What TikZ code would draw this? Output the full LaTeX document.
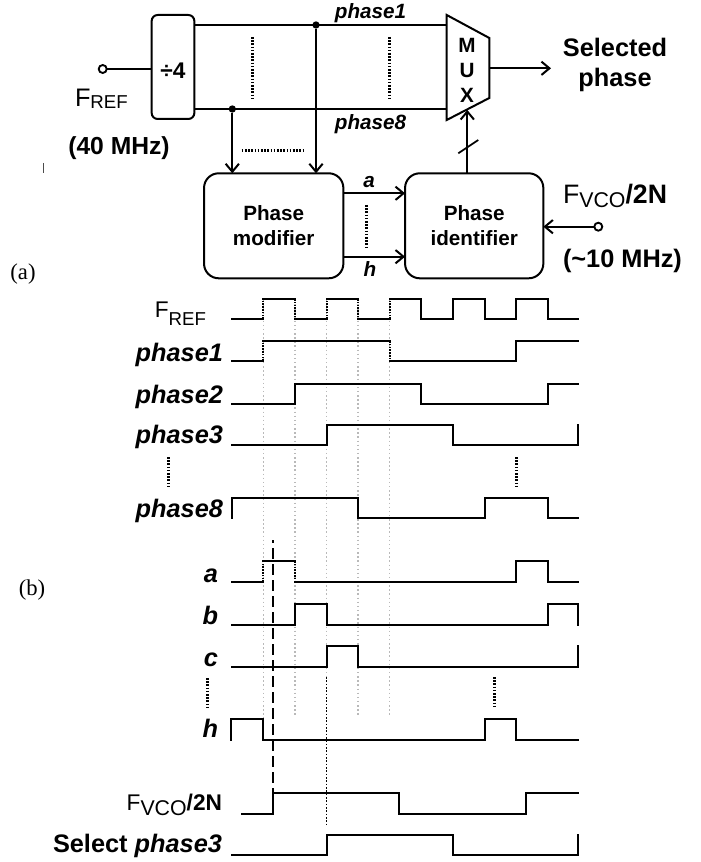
\documentclass[tikz,border=0pt]{standalone}
\usepackage{fontspec}
\setmainfont{Liberation Sans}
\newfontfamily\tmsfont{Liberation Serif}
\usetikzlibrary{arrows.meta}
\newcommand\fsz[1]{\fontsize{#1}{#1}\selectfont}
\def\eA{263.3}\def\eB{294.9}\def\eC{326.5}\def\eD{358.1}\def\eE{389.7}
\def\eF{421.3}\def\eG{452.9}\def\eH{484.5}\def\eI{516.1}\def\eJ{547.7}
\begin{document}
\begin{tikzpicture}[x=0.75pt,y=-0.75pt,
  every node/.style={inner sep=0pt, outer sep=0pt},
  ln/.style={line width=1.5pt},
  box/.style={draw, line width=1.5pt, rounded corners=11pt, align=center, font=\bfseries\fontsize{15.5}{19}\selectfont},
  arr/.style={line width=1.5pt, -{Straight Barb[length=6pt,width=10pt]}},
  sig/.style={line width=1.5pt, line join=miter, line cap=rect},
  sigdot/.style={line width=1.5pt, dash pattern=on 1.2pt off 0.9pt},
  guide/.style={gray!55, line width=1.1pt, dash pattern=on 1.1pt off 2pt},
  bdots/.style={line width=2.1pt, dash pattern=on 1.2pt off 1.2pt},
  lbl/.style={font=\bfseries\itshape\fsz{19}, anchor=base east},
  toplbl/.style={font=\bfseries\itshape\fsz{15.5}, anchor=base},
  jdot/.style={circle, fill, inner sep=0pt, minimum size=5.5pt},
  pin/.style={circle, draw, line width=1.4pt, fill=white, inner sep=0pt, minimum size=6pt}
]
\useasboundingbox (0,0) rectangle (700,862);

% ---------------- (a) block diagram ----------------
\node[draw, line width=1.5pt, rounded corners=4.5pt, minimum width=32pt, minimum height=78pt] (div) at (173,67) {};
\node[font=\bfseries\fsz{17}] (divt) at (173,70.5) {÷4};
\node[pin] (fin) at (102.7,69) {};
\draw[ln] (fin) -- (fin -| div.west);
\node[anchor=base west] (frefl) at (75,107) {\fsz{19}F\raisebox{-1pt}{\fsz{14}REF}};
\node[font=\bfseries\fsz{18.5}, anchor=base] (f40) at (119,155) {(40 MHz)};

\coordinate (m1) at (446.7,25);
\coordinate (m8) at (446.7,109);
\draw[ln] (div.east |- m1) -- (m1);
\draw[ln] (div.east |- m8) -- (m8);
\node[toplbl] (lp1) at (370.5,19) {phase1};
\node[toplbl] (lp8) at (370.5,130) {phase8};

% MUX
\coordinate (mA) at (446.7,15);
\coordinate (mB) at (489.3,38);
\coordinate (mC) at (489.3,98);
\coordinate (mD) at (446.7,120);
\draw[ln, line join=miter] (mA) -- (mB) -- (mC) -- (mD) -- cycle;
\node[font=\bfseries\fsz{15.5}] (mM) at (467,45) {M};
\node[font=\bfseries\fsz{15.5}] (mU) at (467,70) {U};
\node[font=\bfseries\fsz{15.5}] (mX) at (467,95) {X};
\coordinate (mout) at (489.3,68.3);
\coordinate (selend) at (551,68.3);
\draw[arr] (mout) -- (selend);
\node[font=\bfseries\fsz{19}, anchor=base] (sel1) at (615,57) {Selected};
\node[font=\bfseries\fsz{19}, anchor=base] (sel2) at (615,87) {phase};

% dotted bundles
\draw[bdots] (252.7,37) -- (252.7,100);
\draw[bdots] (389.3,37) -- (389.3,100);
\draw[bdots] (241.7,150.7) -- (305,150.7);

% boxes
\node[box, minimum width=104.5pt, minimum height=78.75pt] (pm) at (273.7,225.8) {Phase\\modifier};
\node[box, minimum width=103.7pt, minimum height=78.75pt] (pi) at (474.2,225.8) {Phase\\identifier};

% junctions and arrows to phase modifier
\node[jdot] (j1) at (316,25) {};
\node[jdot] (j8) at (232.3,109) {};
\draw[arr] (j1) -- (j1 |- pm.north);
\draw[arr] (j8) -- (j8 |- pm.north);

% a ... h
\coordinate (ya) at (0,193.3);
\coordinate (yh) at (0,256.7);
\draw[arr] (pm.east |- ya) -- (pi.west |- ya);
\draw[arr] (pm.east |- yh) -- (pi.west |- yh);
\node[toplbl] (la) at (369,188) {a};
\node[toplbl] (lh) at (370,277) {h};
\draw[bdots] (366.7,205) -- (366.7,247);

% identifier to MUX
\coordinate (muxin) at (467.3,110);
\coordinate (piup) at (467.3,173.3);
\draw[arr] (piup) -- (muxin);
\coordinate (slA) at (458.3,153.3);
\coordinate (slB) at (478.3,140);
\draw[line width=1.3pt] (slA) -- (slB);

% FVCO input
\node[pin] (vin) at (598.3,226.7) {};
\draw[arr] (vin) -- (vin -| pi.east);
\node[anchor=base west] (fvtop) at (563,204) {\fsz{20}F\raisebox{-3pt}{\fsz{16}VCO}\bfseries/2N};
\node[font=\bfseries\fsz{19}, anchor=base west] (f10) at (563,268) {(\textasciitilde10 MHz)};

% stray mark and panel labels
\draw[line width=1pt, black!70] (43.3,163) -- (43.3,173);
\node[font=\tmsfont\fsz{17}] (pa) at (23,274) {(a)};
\node[font=\tmsfont\fsz{17}] (pb) at (32,590) {(b)};

% ---------------- (b) timing diagram ----------------
% guide lines
\draw[guide] (\eA,300) -- (\eA,719);
\draw[guide] (\eB,300) -- (\eB,716);
\draw[guide] (\eC,300) -- (\eC,677);
\draw[guide] (\eD,300) -- (\eD,716);
\draw[guide] (\eE,300) -- (\eE,716);
\draw[line width=1.3pt, dash pattern=on 1.2pt off 1.3pt] (\eC,677) -- (\eC,826);
\draw[line width=1.3pt, dash pattern=on 8pt off 4pt, dash phase=6pt] (273.3,540) -- (273.3,813);

% labels
\node[anchor=base east] (lfref) at (206,318) {\fsz{17}F\raisebox{-5.5pt}{\fsz{14}REF}};
\node[lbl] (l1) at (223,361) {phase1};
\node[lbl] (l2) at (223,403) {phase2};
\node[lbl] (l3) at (223,443) {phase3};
\node[lbl] (l8) at (223,517) {phase8};
\node[lbl] (lta) at (218,582) {a};
\node[lbl] (ltb) at (218,624) {b};
\node[lbl] (ltc) at (218,666) {c};
\node[lbl] (lth) at (218,737) {h};
\node[anchor=base east] (lfv) at (222,810) {\fsz{17}F\raisebox{-4pt}{\fsz{16}VCO}\bfseries/2N};
\node[anchor=base east, font=\fsz{19}] (lsel) at (222,852) {\bfseries Select \itshape phase3};

\draw[bdots] (168.3,457) -- (168.3,487);
\draw[bdots] (\eI,457) -- (\eI,487);
\draw[bdots] (207.3,678) -- (207.3,707);
\draw[bdots] (494.3,677) -- (494.3,707);

% FREF
\draw[sig] (232,319) -- (\eA,319);
\draw[sigdot] (\eA,319) -- (\eA,299);
\draw[sig] (\eA,299) -- (\eB,299);
\draw[sigdot] (\eB,299) -- (\eB,319);
\draw[sig] (\eB,319) -- (\eC,319);
\draw[sigdot] (\eC,319) -- (\eC,299);
\draw[sig] (\eC,299) -- (\eD,299);
\draw[sigdot] (\eD,299) -- (\eD,319);
\draw[sig] (\eD,319) -- (\eE,319);
\draw[sigdot] (\eE,319) -- (\eE,299);
\draw[sig] (\eE,299) -- (\eF,299) -- (\eF,319) -- (\eG,319) -- (\eG,299) -- (\eH,299) -- (\eH,319) -- (\eI,319) -- (\eI,299) -- (\eJ,299) -- (\eJ,319) -- (578,319);
% phase1
\draw[sig] (232,361) -- (\eA,361);
\draw[sigdot] (\eA,361) -- (\eA,341);
\draw[sig] (\eA,341) -- (\eE,341);
\draw[sigdot] (\eE,341) -- (\eE,361);
\draw[sig] (\eE,361) -- (\eI,361) -- (\eI,341) -- (578,341);
% phase2
\draw[sig] (232,404) -- (\eB,404) -- (\eB,384) -- (\eF,384) -- (\eF,404) -- (\eJ,404) -- (\eJ,384) -- (578,384);
% phase3
\draw[sig] (232,445) -- (\eC,445) -- (\eC,425) -- (\eG,425) -- (\eG,445) -- (578,445) -- (578,425);
% phase8
\draw[sig] (232,518) -- (232,498) -- (\eD,498) -- (\eD,518) -- (\eH,518) -- (\eH,498) -- (\eJ,498) -- (\eJ,518) -- (578,518);
% a
\draw[sig] (232,582) -- (\eA,582);
\draw[sigdot] (\eA,582) -- (\eA,561);
\draw[sig] (\eA,561) -- (\eB,561);
\draw[sigdot] (\eB,561) -- (\eB,582);
\draw[sig] (\eB,582) -- (\eI,582) -- (\eI,561) -- (\eJ,561) -- (\eJ,582) -- (578,582);
% b
\draw[sig] (232,625) -- (\eB,625) -- (\eB,604) -- (\eC,604) -- (\eC,625) -- (\eJ,625) -- (\eJ,604) -- (578,604) -- (578,625);
% c
\draw[sig] (232,667) -- (\eC,667) -- (\eC,646) -- (\eD,646) -- (\eD,667) -- (578,667) -- (578,646);
% h
\draw[sig] (231,740) -- (231,719) -- (\eA,719) -- (\eA,740) -- (\eH,740) -- (\eH,719) -- (\eI,719) -- (\eI,740) -- (578,740);
% FVCO/2N
\draw[sig] (242,814) -- (273.3,814) -- (273.3,793) -- (399.3,793) -- (399.3,814) -- (526,814) -- (526,793) -- (578,793);
% Select phase3
\draw[sig] (232,855) -- (\eC,855) -- (\eC,834.5) -- (\eG,834.5) -- (\eG,855) -- (578,855) -- (578,834.5);
\end{tikzpicture}
\end{document}
